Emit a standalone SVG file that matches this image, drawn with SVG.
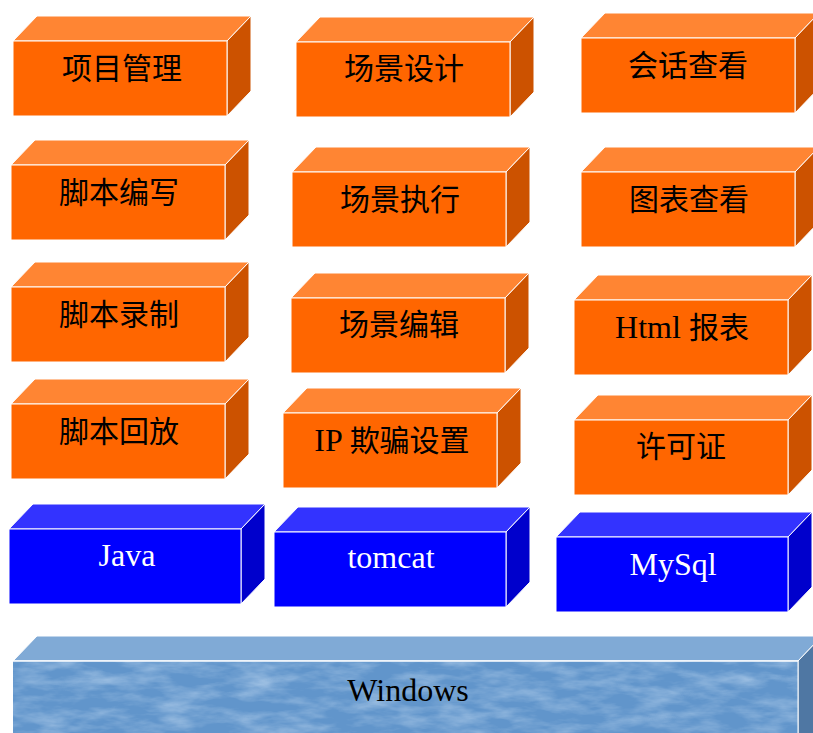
<svg xmlns="http://www.w3.org/2000/svg" xmlns:xlink="http://www.w3.org/1999/xlink" width="813" height="733" viewBox="0 0 813 733">
  <style>
    .of { fill: #FF6600; stroke: #FFFFFF; stroke-width: 1; }
    .ot { fill: #FF8533; stroke: #FFFFFF; stroke-width: 1; }
    .or { fill: #CC5200; stroke: #FFFFFF; stroke-width: 1; }
    .bf { fill: #0000FF; stroke: #FFFFFF; stroke-width: 1; }
    .bt { fill: #3333FF; stroke: #FFFFFF; stroke-width: 1; }
    .br { fill: #0000CC; stroke: #FFFFFF; stroke-width: 1; }
    .wf { fill: #6195CB; }
    .wt { fill: #80AAD6; stroke: #FFFFFF; stroke-width: 1; }
    .wr { fill: #4F77A3; stroke: #FFFFFF; stroke-width: 1; }
    .lbl { font-family: "Liberation Serif", "Noto Sans CJK SC", serif; font-size: 30px; text-anchor: middle; fill: #000000; }
    .big { font-size: 32px; }
    .lblw { font-family: "Liberation Serif", "Noto Sans CJK SC", serif; font-size: 32px; text-anchor: middle; fill: #FFFFFF; }
  </style>
  <defs>
    <g id="obox">
      <polygon class="ot" points="0,0 24,-25 238,-25 214,0"/>
      <polygon class="or" points="214,0 238,-25 238,50 214,75"/>
      <rect class="of" x="0" y="0" width="214" height="75"/>
    </g>
    <g id="bbox">
      <polygon class="bt" points="0,0 24,-25 256,-25 232,0"/>
      <polygon class="br" points="232,0 256,-25 256,50 232,75"/>
      <rect class="bf" x="0" y="0" width="232" height="75"/>
    </g>
    <filter id="mottle" filterUnits="userSpaceOnUse" x="13" y="661" width="785" height="80">
      <feTurbulence type="fractalNoise" baseFrequency="0.025 0.08" numOctaves="4" seed="7" result="n"/>
      <feColorMatrix in="n" type="matrix" values="0 0 0 0 0.62  0 0 0 0 0.76  0 0 0 0 0.92  1.0 0 0 0 -0.38"/>
    </filter>
  </defs>

  <g id="windows">
    <polygon class="wt" points="13,661 37,636 822,636 798,661"/>
    <polygon class="wr" points="798,661 822,636 822,740 798,740"/>
    <rect class="wf" x="13" y="661" width="785" height="80"/>
    <rect x="13" y="661" width="785" height="80" fill="#FFFFFF" filter="url(#mottle)"/>
    <line x1="13" y1="661" x2="798" y2="661" stroke="#FFFFFF" stroke-width="1.5"/>
    <line x1="798" y1="661" x2="798" y2="740" stroke="#FFFFFF" stroke-width="1"/>
    <text class="lbl big" x="408" y="701">Windows</text>
  </g>

  <g id="n-xiangmuguanli">
    <use xlink:href="#obox" x="13" y="41"/>
    <text class="lbl" x="122" y="79">项目管理</text>
  </g>
  <g id="n-changjingsheji">
    <use xlink:href="#obox" x="296" y="42"/>
    <text class="lbl" x="404" y="79">场景设计</text>
  </g>
  <g id="n-huihuachakan">
    <use xlink:href="#obox" x="581" y="38"/>
    <text class="lbl" x="688" y="76">会话查看</text>
  </g>

  <g id="n-jiaobenbianxie">
    <use xlink:href="#obox" x="11" y="165"/>
    <text class="lbl" x="119" y="203">脚本编写</text>
  </g>
  <g id="n-changjingzhixing">
    <use xlink:href="#obox" x="292" y="172"/>
    <text class="lbl" x="400" y="210">场景执行</text>
  </g>
  <g id="n-tubiaochakan">
    <use xlink:href="#obox" x="581" y="172"/>
    <text class="lbl" x="689" y="210">图表查看</text>
  </g>

  <g id="n-jiaobenluzhi">
    <use xlink:href="#obox" x="11" y="287"/>
    <text class="lbl" x="119" y="325">脚本录制</text>
  </g>
  <g id="n-changjingbianji">
    <use xlink:href="#obox" x="291" y="298"/>
    <text class="lbl" x="399" y="335">场景编辑</text>
  </g>
  <g id="n-htmlbaobiao">
    <use xlink:href="#obox" x="574" y="300"/>
    <text class="lbl" x="682" y="338"><tspan class="big">Html </tspan>报表</text>
  </g>

  <g id="n-jiaobenhuifang">
    <use xlink:href="#obox" x="11" y="404"/>
    <text class="lbl" x="119" y="442">脚本回放</text>
  </g>
  <g id="n-ipqipian">
    <use xlink:href="#obox" x="283" y="413"/>
    <text class="lbl" x="392" y="451"><tspan class="big">IP </tspan>欺骗设置</text>
  </g>
  <g id="n-xukezheng">
    <use xlink:href="#obox" x="574" y="420"/>
    <text class="lbl" x="681" y="457">许可证</text>
  </g>

  <g id="n-java">
    <use xlink:href="#bbox" x="9" y="529"/>
    <text class="lblw" x="127" y="566">Java</text>
  </g>
  <g id="n-tomcat">
    <use xlink:href="#bbox" x="274" y="532"/>
    <text class="lblw" x="391" y="568">tomcat</text>
  </g>
  <g id="n-mysql">
    <use xlink:href="#bbox" x="556" y="537"/>
    <text class="lblw" x="673" y="575">MySql</text>
  </g>

  <g id="connectors"/>
</svg>
